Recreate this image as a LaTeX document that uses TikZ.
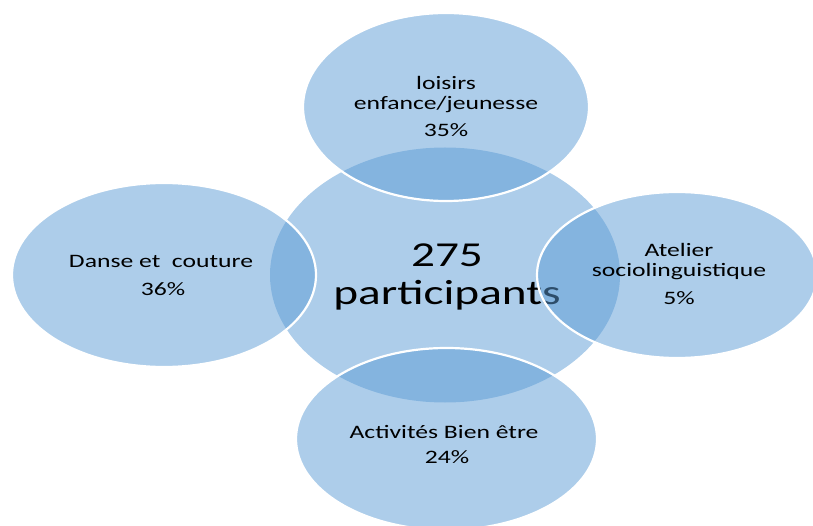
\documentclass[tikz,border=0pt]{standalone}
\usepackage{fontspec}
\setmainfont{Carlito}[FakeStretch=1.35]
\usetikzlibrary{shapes.geometric}
\definecolor{accent}{HTML}{5B9BD5}
\begin{document}
\begin{tikzpicture}[x=1pt,y=-1pt,
  blob/.style={ellipse, inner sep=0pt, fill=accent, fill opacity=0.5, draw=white, draw opacity=1, line width=2.2pt},
  core/.style={ellipse, inner sep=0pt, fill=accent, fill opacity=0.5},
  lbl/.style={anchor=base, inner sep=0pt, font=\fontsize{19}{23}\selectfont, text=black},
  big/.style={anchor=base, inner sep=0pt, font=\fontsize{35}{40}\selectfont, text=black}]
\useasboundingbox (0,0) rectangle (813,526);
% central ellipse and its text
\node[core, minimum width=350pt, minimum height=255pt] (c) at (445,275) {};
\node[big] (c1) at (447,267) {275};
\node[big] (c2) at (447,305) {participants};
% outer ellipses
\node[blob, minimum width=286pt, minimum height=188pt] (t) at (446,107) {};
\node[blob, minimum width=301pt, minimum height=182pt] (b) at (446.5,439) {};
\node[blob, minimum width=304pt, minimum height=184pt] (l) at (164,275) {};
\node[blob, minimum width=280pt, minimum height=166pt] (r) at (677,275) {};
% labels
\node[lbl] (t1) at (446,90) {loisirs};
\node[lbl] (t2) at (446,110) {enfance/jeunesse};
\node[lbl] (t3) at (446,137) {35\%};
\node[lbl] (l1) at (161,268) {Danse et\ \ couture};
\node[lbl] (l2) at (163,295) {36\%};
\node[lbl] (r1) at (679,257) {Atelier};
\node[lbl] (r2) at (679,277) {sociolinguistique};
\node[lbl] (r3) at (679,305) {5\%};
\node[lbl] (b1) at (444,438) {Activités Bien être};
\node[lbl] (b2) at (447,463) {24\%};
\end{tikzpicture}
\end{document}
